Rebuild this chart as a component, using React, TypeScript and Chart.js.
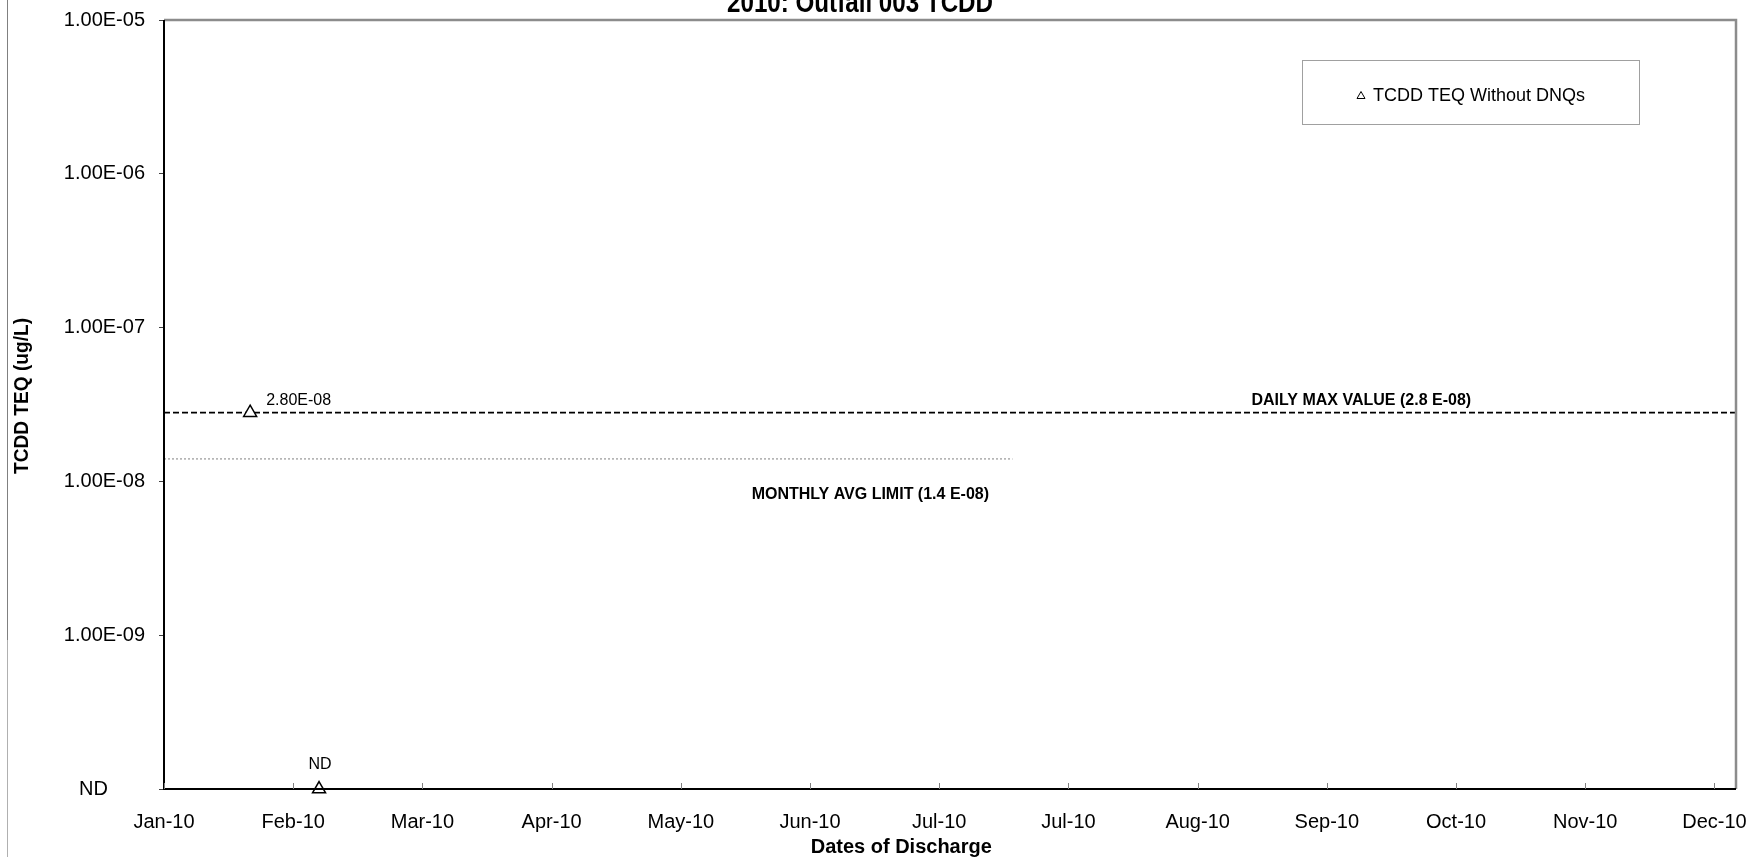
import React, { useEffect, useRef } from 'react';
import { Chart, registerables } from 'chart.js';

Chart.register(...registerables);

const FONT = "'Liberation Sans', Arial, sans-serif";

// ---- data ----
const sampleDates = ['2010-01-22', '2010-02-07'];
const teqWithoutDnq: (number | null)[] = [2.8e-8, null]; // null = ND
const sampleLabels = ['2.80E-08', 'ND'];
const ND_LEVEL = 1e-10;

const dailyMaxValue = 2.8e-8;
const dailyMaxDates = ['2010-01-02', '2011-01-02'];
const dailyMaxText = 'DAILY MAX VALUE (2.8 E-08)';
const dailyMaxTextDate = '2010-10-07';

const monthlyAvgValue = 1.4e-8;
const monthlyAvgDates = ['2010-01-02', '2010-07-18'];
const monthlyAvgText = 'MONTHLY AVG LIMIT (1.4 E-08)';
const monthlyAvgTextDate = '2010-06-15';

const xTickDates = [
  '2010-01-02', '2010-02-01', '2010-03-03', '2010-04-02', '2010-05-02', '2010-06-01', '2010-07-01',
  '2010-07-31', '2010-08-30', '2010-09-29', '2010-10-29', '2010-11-28', '2010-12-28',
];
const xTickLabels = [
  'Jan-10', 'Feb-10', 'Mar-10', 'Apr-10', 'May-10', 'Jun-10', 'Jul-10',
  'Jul-10', 'Aug-10', 'Sep-10', 'Oct-10', 'Nov-10', 'Dec-10',
];
const yTickValues = [1e-10, 1e-9, 1e-8, 1e-7, 1e-6, 1e-5];
const yTickLabels = ['ND', '1.00E-09', '1.00E-08', '1.00E-07', '1.00E-06', '1.00E-05'];

const chartTitle = '2010: Outfall 003 TCDD';
const xTitle = 'Dates of Discharge';
const yTitle = 'TCDD TEQ (ug/L)';
const legendText = 'TCDD TEQ Without DNQs';

const X_MIN_DATE = '2010-01-02';
const X_MAX_DATE = '2011-01-02';

function dayOf(s: string): number {
  const [y, m, d] = s.split('-').map(Number);
  return (Date.UTC(y, m - 1, d) - Date.UTC(2010, 0, 1)) / 86400000;
}

function condensed(ctx: CanvasRenderingContext2D, text: string, cx: number, cy: number, font: string, targetW: number, rot: number, baseline: CanvasTextBaseline) {
  ctx.save();
  ctx.font = font;
  const w = ctx.measureText(text).width;
  ctx.translate(cx, cy);
  ctx.rotate(rot);
  ctx.scale(targetW / w, 1);
  ctx.textAlign = 'center';
  ctx.textBaseline = baseline;
  ctx.fillText(text, 0, 0);
  ctx.restore();
}

const decorPlugin = {
  id: 'decor',
  afterDraw(chart: any) {
    const { ctx, chartArea: a, scales } = chart;
    const x = scales.x;
    const y = scales.y;
    ctx.save();

    // outer chart frame (left edge)
    ctx.lineWidth = 1;
    ctx.strokeStyle = '#808080';
    ctx.beginPath();
    ctx.moveTo(7.5, 0);
    ctx.lineTo(7.5, 640);
    ctx.stroke();
    ctx.strokeStyle = '#b0b0b0';
    ctx.beginPath();
    ctx.moveTo(7.5, 640);
    ctx.lineTo(7.5, 857);
    ctx.stroke();

    // plot frame: top/right gray, left/bottom black
    ctx.strokeStyle = '#8c8c8c';
    ctx.lineWidth = 2.5;
    ctx.beginPath();
    ctx.moveTo(a.left, a.top);
    ctx.lineTo(a.right, a.top);
    ctx.lineTo(a.right, a.bottom);
    ctx.stroke();
    ctx.strokeStyle = '#000';
    ctx.lineWidth = 2;
    ctx.beginPath();
    ctx.moveTo(a.left, a.top);
    ctx.lineTo(a.left, a.bottom);
    ctx.lineTo(a.right, a.bottom);
    ctx.stroke();

    // x tick marks (inside)
    ctx.strokeStyle = '#808080';
    ctx.lineWidth = 1;
    x.ticks.forEach((t: any) => {
      const px = Math.round(x.getPixelForValue(t.value)) + 0.5;
      ctx.beginPath();
      ctx.moveTo(px, a.bottom);
      ctx.lineTo(px, a.bottom - 6);
      ctx.stroke();
    });

    ctx.fillStyle = '#000';
    // ND axis label
    ctx.font = `20px ${FONT}`;
    ctx.textAlign = 'center';
    ctx.textBaseline = 'middle';
    ctx.fillText(yTickLabels[0], 93.5, y.getPixelForValue(yTickValues[0]));

    // title (clipped at top)
    condensed(ctx, chartTitle, 860, 12, `bold 29px ${FONT}`, 266, 0, 'alphabetic');
    // y axis title
    condensed(ctx, yTitle, 22, 396, `bold 21px ${FONT}`, 156, -Math.PI / 2, 'middle');
    // x axis title
    ctx.font = `bold 20px ${FONT}`;
    ctx.textAlign = 'center';
    ctx.textBaseline = 'middle';
    ctx.fillText(xTitle, a.left + (a.right - a.left) * 0.469, 847);

    // data labels
    ctx.font = `16px ${FONT}`;
    sampleDates.forEach((d, i) => {
      const px = x.getPixelForValue(dayOf(d));
      const py = y.getPixelForValue(teqWithoutDnq[i] ?? ND_LEVEL);
      if (teqWithoutDnq[i] == null) {
        ctx.textAlign = 'center';
        ctx.fillText(sampleLabels[i], px + 1, py - 24);
      } else {
        ctx.textAlign = 'left';
        ctx.fillText(sampleLabels[i], px + 16, py - 12);
      }
    });

    // limit annotations
    ctx.font = `bold 16px ${FONT}`;
    ctx.textAlign = 'center';
    ctx.fillText(dailyMaxText, x.getPixelForValue(dayOf(dailyMaxTextDate)), y.getPixelForValue(dailyMaxValue) - 12);
    ctx.fillText(monthlyAvgText, x.getPixelForValue(dayOf(monthlyAvgTextDate)), y.getPixelForValue(monthlyAvgValue) + 36);

    // legend
    ctx.strokeStyle = '#a0a0a0';
    ctx.lineWidth = 1;
    ctx.strokeRect(1302.5, 60.5, 337, 64);
    ctx.strokeStyle = '#000';
    ctx.lineWidth = 1;
    ctx.beginPath();
    ctx.moveTo(1361, 91.5);
    ctx.lineTo(1365, 98.5);
    ctx.lineTo(1357, 98.5);
    ctx.closePath();
    ctx.stroke();
    ctx.font = `18px ${FONT}`;
    ctx.textAlign = 'left';
    ctx.textBaseline = 'middle';
    ctx.fillText(legendText, 1373, 96);

    ctx.restore();
  },
};

export default function App() {
  const ref = useRef<HTMLCanvasElement | null>(null);

  useEffect(() => {
    if (!ref.current) return;
    const samplePoints = sampleDates.map((d, i) => ({ x: dayOf(d), y: teqWithoutDnq[i] ?? ND_LEVEL }));
    const chart = new Chart(ref.current, {
      type: 'line',
      data: {
        datasets: [
          {
            label: legendText,
            data: samplePoints,
            showLine: false,
            pointStyle: 'triangle',
            pointRadius: 7.5,
            pointBackgroundColor: '#fff',
            pointBorderColor: '#000',
            pointBorderWidth: 1.5,
            clip: false,
          } as any,
          {
            label: 'Daily Max',
            data: dailyMaxDates.map((d) => ({ x: dayOf(d), y: dailyMaxValue })),
            borderColor: '#000',
            borderWidth: 1.6,
            borderDash: [6, 3],
            pointRadius: 0,
          },
          {
            label: 'Monthly Avg',
            data: monthlyAvgDates.map((d) => ({ x: dayOf(d), y: monthlyAvgValue })),
            borderColor: '#808080',
            borderWidth: 1,
            borderDash: [2, 2],
            pointRadius: 0,
          },
        ],
      },
      options: {
        animation: false,
        responsive: false,
        layout: { padding: { top: 20, right: 14, left: 0, bottom: 0 } },
        plugins: {
          legend: { display: false },
          tooltip: { enabled: false },
          title: { display: false },
        },
        scales: {
          x: {
            type: 'linear',
            min: dayOf(X_MIN_DATE),
            max: dayOf(X_MAX_DATE),
            afterBuildTicks: (s: any) => {
              s.ticks = xTickDates.map((d) => ({ value: dayOf(d) }));
            },
            afterFit: (s: any) => {
              s.height = 70;
              s.paddingLeft = 0;
              s.paddingRight = 0;
            },
            ticks: {
              autoSkip: false,
              maxRotation: 0,
              minRotation: 0,
              padding: 13,
              color: '#000',
              font: { family: FONT, size: 20 },
              callback: (_v: any, i: number) => xTickLabels[i],
            },
            grid: { display: false },
            border: { display: false },
          },
          y: {
            type: 'logarithmic',
            min: yTickValues[0],
            max: yTickValues[yTickValues.length - 1],
            afterBuildTicks: (s: any) => {
              s.ticks = yTickValues.map((v) => ({ value: v }));
            },
            afterFit: (s: any) => {
              s.width = 164;
              s.paddingTop = 0;
              s.paddingBottom = 0;
            },
            ticks: {
              padding: 14,
              color: '#000',
              font: { family: FONT, size: 20 },
              callback: (_v: any, i: number) => (i === 0 ? '' : yTickLabels[i]),
            },
            grid: { drawOnChartArea: false, drawTicks: true, tickLength: 5, color: '#404040', lineWidth: 1 },
            border: { display: false },
          },
        },
      } as any,
      plugins: [decorPlugin],
    });
    return () => chart.destroy();
  }, []);

  return (
    <div style={{ position: 'fixed', left: 0, top: 0, width: 1750, height: 859, background: '#fff' }}>
      <canvas ref={ref} width={1750} height={859} style={{ display: 'block' }} />
    </div>
  );
}
